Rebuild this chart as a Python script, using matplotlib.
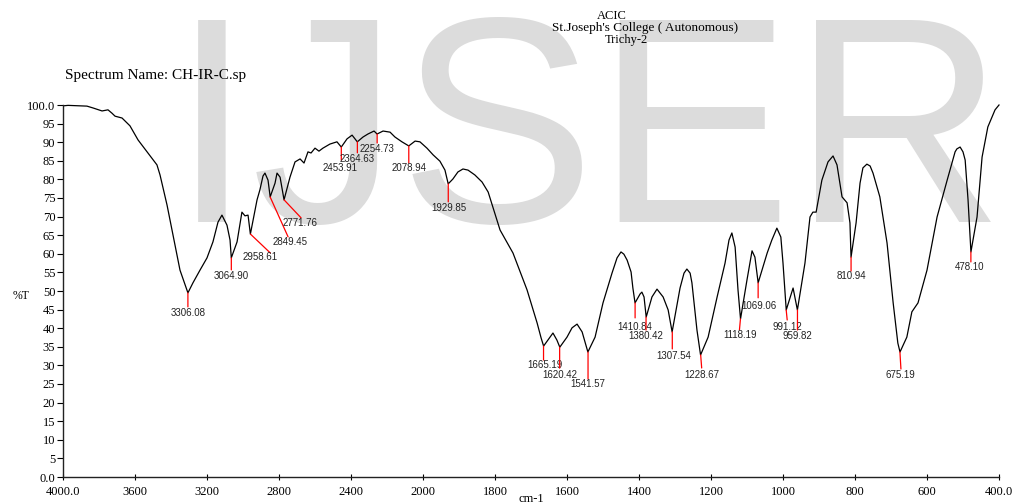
import numpy as np
import matplotlib
matplotlib.use('Agg')
import matplotlib.pyplot as plt

# spectrum trace (wavenumber cm-1, %T)
wavenumber = [3994, 3972, 3867, 3833, 3783, 3750, 3728, 3711, 3672, 3628,
              3583, 3528, 3478, 3461, 3422, 3389, 3350, 3306, 3278, 3239,
              3200, 3167, 3139, 3117, 3089, 3072, 3065, 3033, 3006, 2989,
              2972, 2959, 2922, 2906, 2889, 2878, 2861, 2849, 2822, 2811,
              2794, 2772, 2739, 2711, 2683, 2661, 2639, 2622, 2600, 2578,
              2556, 2517, 2478, 2454, 2422, 2394, 2365, 2333, 2306, 2272,
              2255, 2222, 2183, 2156, 2117, 2079, 2044, 2017, 1989, 1972,
              1953, 1939, 1930, 1917, 1903, 1889, 1875, 1856, 1836, 1819,
              1786, 1750, 1711, 1683, 1672, 1665, 1653, 1639, 1628, 1620,
              1600, 1586, 1572, 1558, 1542, 1522, 1500, 1475, 1461, 1450,
              1442, 1433, 1422, 1417, 1411, 1397, 1392, 1386, 1380, 1364,
              1350, 1333, 1319, 1308, 1286, 1275, 1267, 1258, 1253, 1239,
              1229, 1208, 1183, 1161, 1150, 1142, 1133, 1125, 1118, 1100,
              1086, 1078, 1069, 1044, 1031, 1017, 1006, 1000, 991, 972,
              960, 939, 925, 917, 908, 892, 875, 861, 850, 836,
              822, 814, 811, 797, 786, 778, 767, 758, 750, 731,
              711, 694, 681, 675, 656, 642, 625, 600, 572, 544,
              522, 517, 508, 500, 494, 486, 478, 461, 447, 431,
              411, 400]
transmittance = [99.8, 99.9, 99.7, 99.2, 98.4, 98.7, 97.8, 97.0, 96.5, 94.4,
                 90.6, 87.1, 83.9, 81.2, 73.1, 65.1, 55.6, 49.5, 52.2, 55.6,
                 58.9, 63.2, 68.5, 70.4, 67.7, 63.7, 58.9, 63.2, 71.2, 70.2,
                 70.4, 65.3, 74.5, 77.2, 80.9, 81.7, 79.8, 75.3, 79.0, 81.7,
                 80.6, 74.5, 80.6, 84.7, 85.5, 84.4, 87.4, 87.1, 88.4, 87.6,
                 88.4, 89.5, 90.1, 88.7, 90.9, 91.9, 90.1, 91.4, 92.2, 93.0,
                 92.2, 93.0, 92.7, 91.4, 90.1, 89.0, 90.3, 90.1, 88.4, 86.6,
                 84.9, 82.5, 78.8, 80.1, 82.0, 82.8, 82.5, 81.2, 79.3, 76.6,
                 66.4, 60.2, 50.3, 41.4, 37.4, 35.2, 36.8, 38.7, 36.8, 34.9,
                 37.6, 40.1, 41.1, 39.0, 33.6, 37.6, 46.8, 54.8, 58.9, 60.5,
                 59.9, 58.3, 55.1, 50.8, 46.8, 49.2, 49.7, 48.4, 43.0, 48.4,
                 50.5, 48.4, 44.9, 39.0, 50.8, 54.8, 55.9, 54.8, 52.2, 39.5,
                 32.8, 37.6, 48.4, 57.5, 63.7, 65.6, 61.8, 50.3, 42.5, 53.0,
                 60.8, 59.1, 52.2, 60.2, 63.7, 66.9, 64.5, 57.5, 44.9, 50.8,
                 44.9, 57.5, 69.9, 71.2, 71.2, 79.8, 84.7, 86.3, 83.9, 75.3,
                 73.7, 68.3, 59.1, 68.3, 79.0, 83.1, 84.1, 83.6, 81.7, 75.3,
                 62.9, 46.8, 36.0, 33.6, 37.6, 44.4, 46.8, 55.6, 69.9, 79.8,
                 87.4, 88.2, 88.7, 87.4, 85.2, 74.5, 60.5, 69.9, 86.0, 94.1,
                 98.7, 100.0]

# picked peaks
peak_wn = [3306.08, 3064.90, 2958.61, 2849.45, 2771.76, 2453.91, 2364.63,
           2254.73, 2078.94, 1929.85, 1665.19, 1620.42, 1541.57, 1410.84,
           1380.42, 1307.54, 1228.67, 1118.19, 1069.06, 991.12, 959.82,
           810.94, 675.19, 478.10]
peak_t = [49.5, 58.9, 65.3, 75.3, 74.5, 88.7, 90.1, 92.2, 89.0, 78.8,
          35.2, 34.9, 33.6, 46.8, 43.0, 39.0, 32.8, 42.5, 52.2, 44.9,
          44.9, 59.1, 33.6, 60.5]

x_ticks = [4000, 3600, 3200, 2800, 2400, 2000, 1800, 1600, 1400, 1200,
           1000, 800, 600, 400]
x_labels = ['4000.0', '3600', '3200', '2800', '2400', '2000', '1800', '1600',
            '1400', '1200', '1000', '800', '600', '400.0']
y_ticks = [0, 5, 10, 15, 20, 25, 30, 35, 40, 45, 50, 55, 60, 65, 70, 75,
           80, 85, 90, 95, 100]
y_labels = ['0.0', '5', '10', '15', '20', '25', '30', '35', '40', '45', '50',
            '55', '60', '65', '70', '75', '80', '85', '90', '95', '100.0']

# where each red marker line ends / label sits, in pixels from the peak
line_off = [(0, -14), (0, -12), (20, -19), (18, -40), (17, -18), (0, -13),
            (0, -11), (0, -9), (0, -17), (0, -18), (0, -14), (0, -21),
            (0, -27), (0, -15), (0, -13), (0, -17), (1, -13), (-1, -11),
            (0, -15), (1, -10), (0, -20), (0, -14), (1, -17), (0, -10)]
text_off = [(0, -20), (0, -18), (10, -23), (20, -45), (16, -23), (-1, -21),
            (0, -17), (0, -15), (0, -22), (1, -24), (1, -19), (0, -28),
            (0, -32), (0, -24), (0, -19), (1, -24), (1, -20), (0, -16),
            (1, -23), (1, -17), (0, -26), (0, -19), (0, -23), (-1, -15)]

serif = ['Liberation Serif', 'DejaVu Serif']
sans = ['Liberation Sans', 'DejaVu Sans']


# 4000-2000 at half the scale of 2000-400, as the instrument prints it
def fwd(x):
    x = np.asarray(x, dtype=float)
    return np.where(x <= 2000, x / 200.0, 10 + (x - 2000) / 400.0)


def inv(u):
    u = np.asarray(u, dtype=float)
    return np.where(u <= 10, u * 200.0, 2000 + (u - 10) * 400.0)


fig = plt.figure(figsize=(10.19, 5.03), dpi=100)
fig.patch.set_facecolor('white')

# publisher watermark behind everything
fig.text(171 / 1019, 1 - 222 / 503, 'IJSER', family=sans, fontsize=212,
         color='#dcdcdc', ha='left', va='baseline', zorder=-1)

ax = fig.add_axes([63 / 1019, 26 / 503, 936 / 1019, 372 / 503])
ax.set_facecolor('none')
ax.set_xscale('function', functions=(fwd, inv))
ax.set_xlim(4000, 400)
ax.set_ylim(0, 100)

ax.plot(wavenumber, transmittance, color='black', lw=0.9, clip_on=False)

for wn, t, (dx, dy), (lx, ly) in zip(peak_wn, peak_t, line_off, text_off):
    ax.annotate('', xy=(wn, t), xytext=(dx, dy), textcoords='offset pixels',
                arrowprops=dict(arrowstyle='-', color='red', lw=0.9,
                                shrinkA=0, shrinkB=0))
    ax.annotate('%.2f' % wn, xy=(wn, t), xytext=(lx, ly),
                textcoords='offset pixels', ha='center', va='center',
                family=sans, fontsize=7, color='#222222')

for side in ['top', 'right']:
    ax.spines[side].set_visible(False)
for side in ['left', 'bottom']:
    ax.spines[side].set_linewidth(1.0)
    ax.spines[side].set_color('#222222')

ax.set_xticks(x_ticks)
ax.set_xticklabels(x_labels, family=serif, fontsize=9)
ax.xaxis.set_minor_locator(plt.NullLocator())
ax.set_yticks(y_ticks)
ax.set_yticklabels(y_labels, family=serif, fontsize=9)
ax.tick_params(axis='x', direction='inout', length=4, width=0.8, pad=4.5)
ax.tick_params(axis='y', direction='out', length=4, width=0.8, pad=1.5)

fig.text(612 / 1019, 1 - 19 / 503, 'ACIC', family=serif, fontsize=9,
         ha='center', va='baseline')
fig.text(645 / 1019, 1 - 31 / 503, "St.Joseph's College ( Autonomous)",
         family=serif, fontsize=9.5, ha='center', va='baseline')
fig.text(626 / 1019, 1 - 43 / 503, 'Trichy-2', family=serif, fontsize=9,
         ha='center', va='baseline')
fig.text(65 / 1019, 1 - 79 / 503, 'Spectrum Name: CH-IR-C.sp', family=serif,
         fontsize=11, ha='left', va='baseline')
fig.text(21 / 1019, 1 - 296 / 503, '%T', family=serif, fontsize=8.5,
         ha='center', va='center')
fig.text(531 / 1019, 1 - 502 / 503, 'cm-1', family=serif, fontsize=9,
         ha='center', va='baseline')

fig.savefig('out.png', dpi=100)
